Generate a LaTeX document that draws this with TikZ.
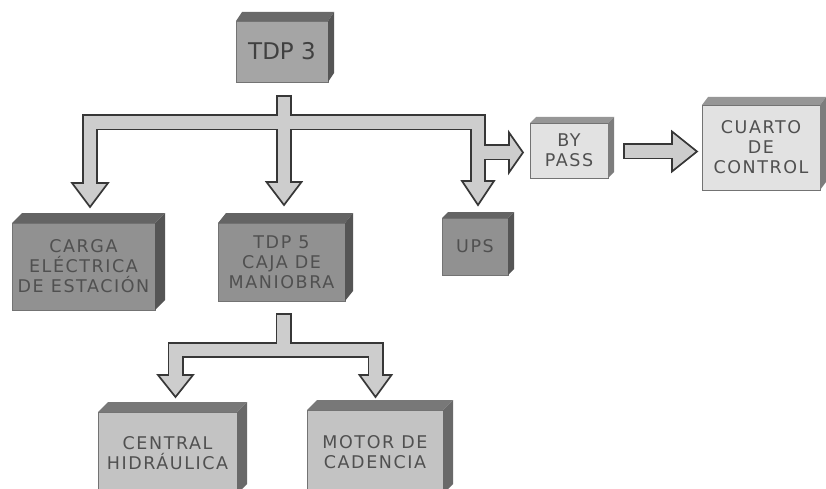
\documentclass[tikz,border=0pt]{standalone}
\usepackage{fontspec}
\setmainfont{DejaVu Sans}
\usetikzlibrary{calc}
\definecolor{arrfill}{RGB}{205,205,205}
\definecolor{arrline}{RGB}{55,55,55}
\definecolor{txtc}{RGB}{80,80,80}
\definecolor{fA}{RGB}{165,165,165}\definecolor{tA}{RGB}{105,105,105}\definecolor{sA}{RGB}{85,85,85}
\definecolor{fB}{RGB}{145,145,145}\definecolor{tB}{RGB}{100,100,100}\definecolor{sB}{RGB}{85,85,85}
\definecolor{fC}{RGB}{226,226,226}\definecolor{tC}{RGB}{150,150,150}\definecolor{sC}{RGB}{125,125,125}
\definecolor{fD}{RGB}{195,195,195}\definecolor{tD}{RGB}{120,120,120}\definecolor{sD}{RGB}{105,105,105}
\newcommand\cubefaces[5]{%
  \fill[#4] (#1.north west) -- ++(#2,#3) -- ($(#1.north east)+(#2,#3)$) -- (#1.north east) -- cycle;
  \fill[#5] (#1.north east) -- ++(#2,#3) -- ($(#1.south east)+(#2,#3)$) -- (#1.south east) -- cycle;}
\tikzset{
  front/.style={draw=black!55, line width=0.6pt, inner sep=0pt, outer sep=0pt, align=center,
    text=txtc, font=\fontsize{17.5}{20}\selectfont\addfontfeature{LetterSpace=9}},
  shaftout/.style={draw=arrline, line width=16pt, line join=miter, line cap=butt},
  shaftin/.style={draw=arrfill, line width=12.4pt, line join=miter, line cap=butt},
  headst/.style={fill=arrfill, draw=arrline, line width=1.7pt, line join=miter}
}
\begin{document}
\begin{tikzpicture}[x=1pt,y=-1pt]
\clip (0,0) rectangle (826,489);
\fill[white] (0,0) rectangle (826,489);
% boxes
\node[front, fill=fA, minimum width=92pt, minimum height=61pt, text=black!75,
  font=\fontsize{23}{26}\selectfont] (tdp3) at (282,51.5) {TDP 3};
\cubefaces{tdp3}{6}{-9}{tA}{sA}
\node[front, fill=fB, minimum width=143pt, minimum height=87pt] (carga) at (83.5,266.5) {CARGA\\ELÉCTRICA\\DE ESTACIÓN};
\cubefaces{carga}{10}{-10}{tB}{sB}
\node[front, fill=fB, minimum width=127pt, minimum height=78pt] (tdp5) at (281.5,262) {TDP 5\\CAJA DE\\MANIOBRA};
\cubefaces{tdp5}{8}{-10}{tB}{sB}
\node[front, fill=fB, minimum width=66pt, minimum height=57pt] (ups) at (475,246.5) {UPS};
\cubefaces{ups}{6}{-6}{tB}{sB}
\node[front, fill=fC, minimum width=78pt, minimum height=55pt] (bypass) at (569,150.5) {BY\\PASS};
\cubefaces{bypass}{6}{-6}{tC}{sC}
\node[front, fill=fC, minimum width=118pt, minimum height=85pt] (cuarto) at (761,147.5) {CUARTO\\DE\\CONTROL};
\cubefaces{cuarto}{6}{-8}{tC}{sC}
\node[front, fill=fD, minimum width=139pt, minimum height=82pt] (central) at (167.5,453) {CENTRAL\\HIDRÁULICA};
\cubefaces{central}{10}{-10}{tD}{sD}
\node[front, fill=fD, minimum width=136pt, minimum height=84pt] (motor) at (375,452) {MOTOR DE\\CADENCIA};
\cubefaces{motor}{10}{-10}{tD}{sD}
% arrow coordinates
\coordinate (s0) at ($(tdp3.south)+(2,13)$);
\coordinate (jL) at (90,122.5);
\coordinate (jR) at (478,122.5);
\coordinate (tL) at ($(carga.north)+(6.5,-16)$);
\coordinate (tM) at ($(tdp5.north)+(2.5,-18)$);
\coordinate (tU) at ($(ups.north)+(3,-13)$);
\coordinate (tB) at ($(bypass.west)+(-7,2)$);
\coordinate (b0) at ($(bypass.east)+(15,1)$);
\coordinate (tC) at ($(cuarto.west)+(-5,4)$);
\coordinate (s1) at ($(tdp5.south)+(2,12)$);
\coordinate (tCH) at ($(central.north)+(8,-15)$);
\coordinate (tMO) at ($(motor.north)+(0.5,-13)$);
% dark strokes
\draw[shaftout] (s0) -- ($(tM)+(0,-22)$);
\draw[shaftout] ($(tL)+(0,-23)$) -- (jL) -- (jR) -- ($(tU)+(0,-23)$);
\draw[shaftout] (478,152.5) -- ($(tB)+(-12,0)$);
\draw[shaftout] (b0) -- ($(tC)+(-24,0)$);
\draw[shaftout] (s1) -- (283.5,350);
\draw[shaftout] ($(tCH)+(0,-21)$) -- (175.5,350) -- (375.5,350) -- ($(tMO)+(0,-21)$);
% heads
\filldraw[headst] (tL) -- ++(-18,-24) -- ++(36,0) -- cycle;
\filldraw[headst] (tM) -- ++(-17.5,-23) -- ++(35,0) -- cycle;
\filldraw[headst] (tU) -- ++(-16,-24) -- ++(32,0) -- cycle;
\filldraw[headst] (tB) -- ++(-14,-20) -- ++(0,40) -- cycle;
\filldraw[headst] (tC) -- ++(-25,-20) -- ++(0,40) -- cycle;
\filldraw[headst] (tCH) -- ++(-17.5,-22) -- ++(35,0) -- cycle;
\filldraw[headst] (tMO) -- ++(-16,-22) -- ++(32,0) -- cycle;
% light strokes
\draw[shaftin] ($(s0)+(0,1.8)$) -- ($(tM)+(0,-20)$);
\draw[shaftin] ($(tL)+(0,-21)$) -- (jL) -- (jR) -- ($(tU)+(0,-21)$);
\draw[shaftin] (478,152.5) -- ($(tB)+(-10,0)$);
\draw[shaftin] ($(b0)+(1.8,0)$) -- ($(tC)+(-22,0)$);
\draw[shaftin] ($(s1)+(0,1.8)$) -- (283.5,350);
\draw[shaftin] ($(tCH)+(0,-19)$) -- (175.5,350) -- (375.5,350) -- ($(tMO)+(0,-19)$);
\end{tikzpicture}
\end{document}
